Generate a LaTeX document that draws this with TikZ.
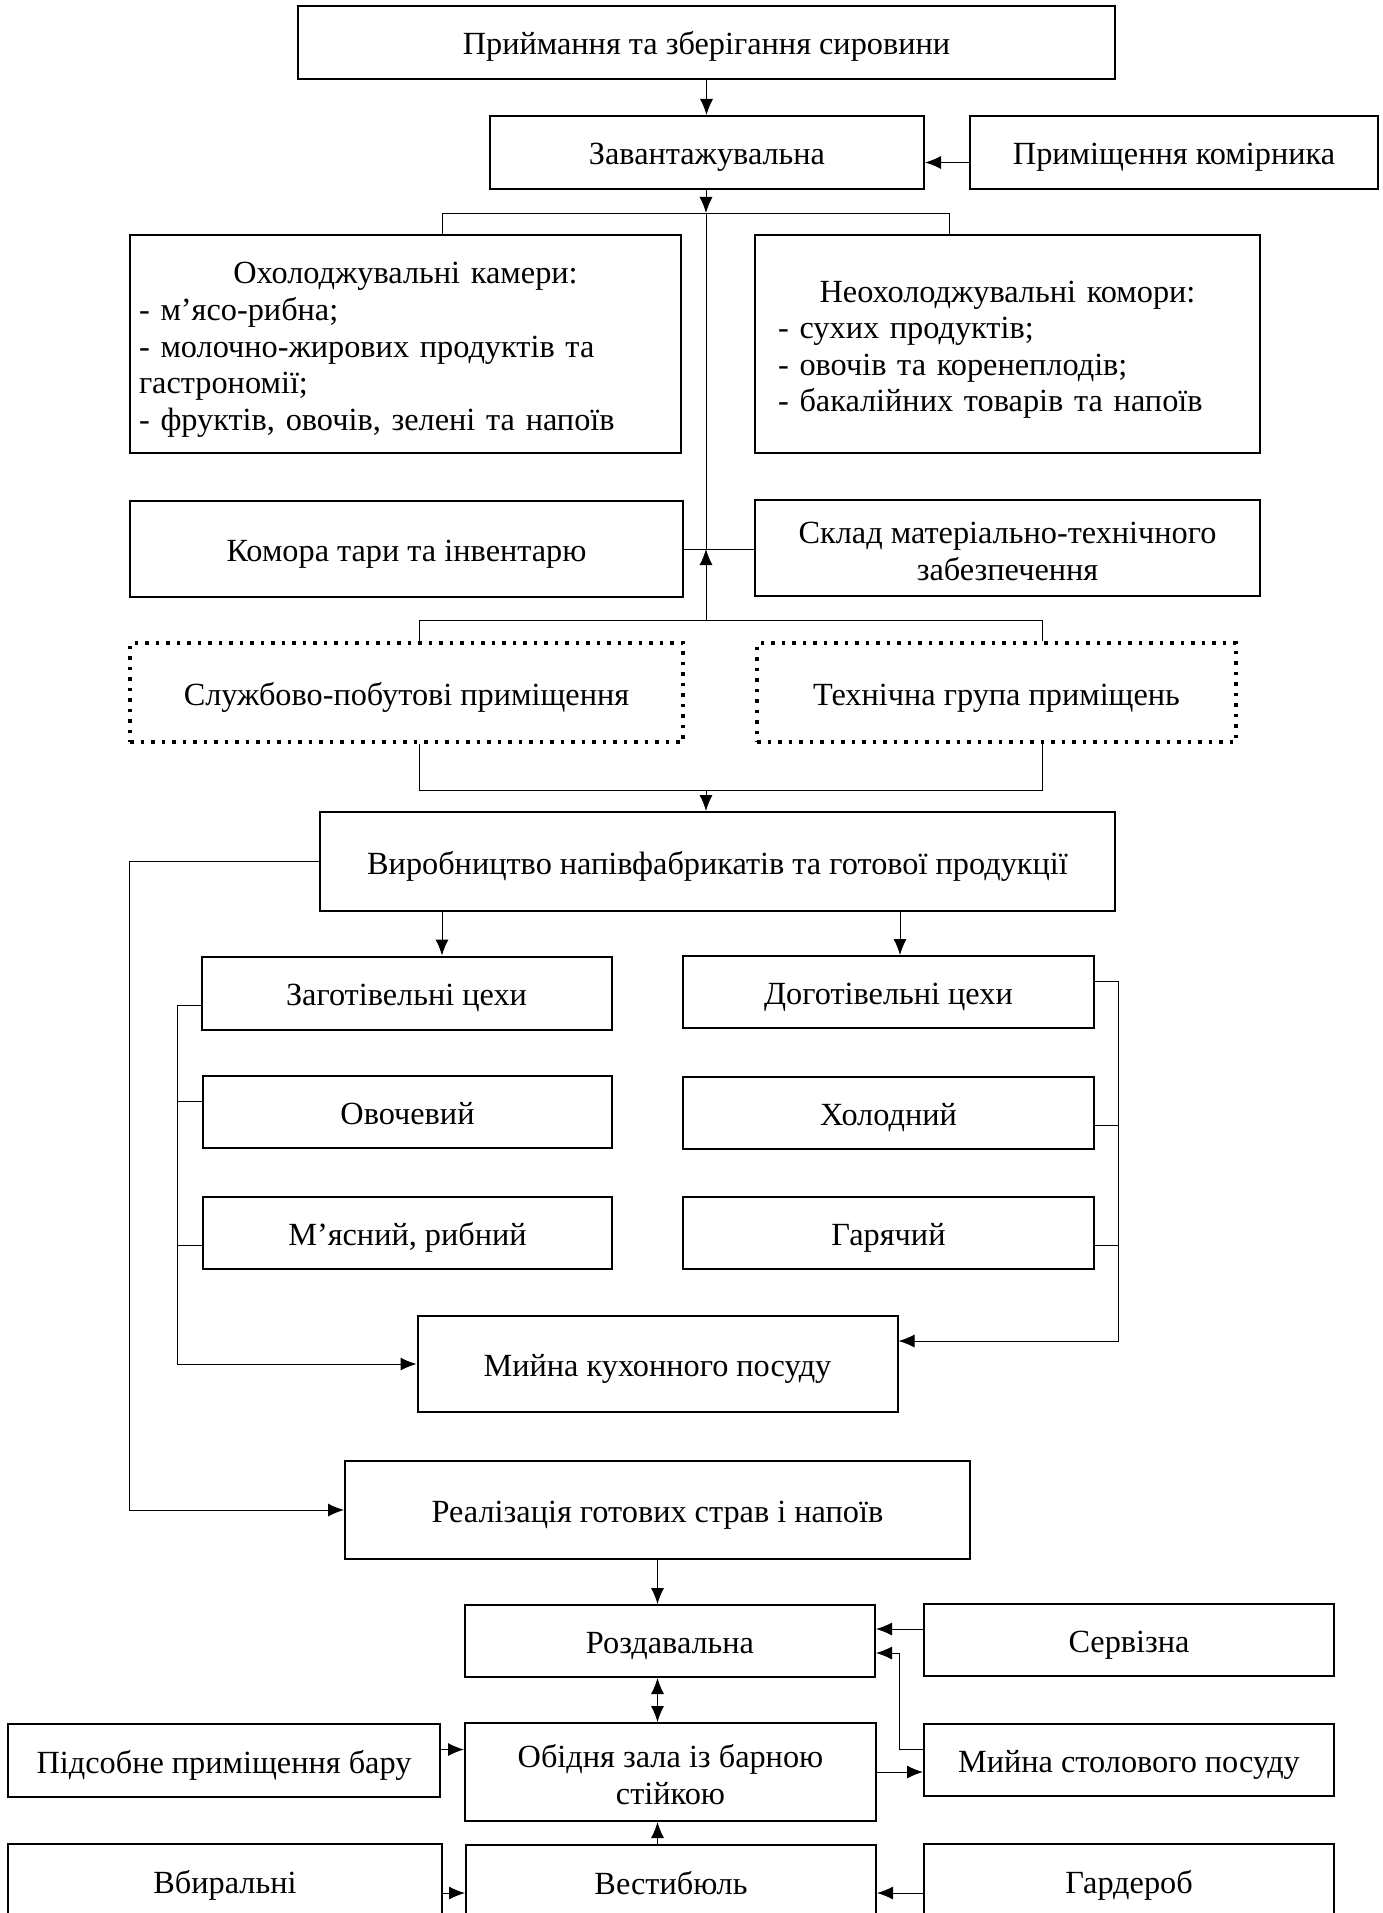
\documentclass[tikz,border=0pt]{standalone}
\usepackage{fontspec}
\setmainfont{Liberation Serif}
\usetikzlibrary{arrows.meta}
\newcommand{\toppad}{\rule{0pt}{33pt}}

\begin{document}
\begin{tikzpicture}[x=1pt, y=-1pt,
    base/.style={draw, line width=2pt, inner sep=0pt, align=center, font=\fontsize{32.3}{36.6}\selectfont},
    box/.style={base, text height=25pt, text depth=0pt},
    dotbox/.style={box, line width=3.5pt, dash pattern=on 3.5pt off 7pt},
    sz/.style 2 args={minimum width=#1pt, minimum height=#2pt},
    conn/.style={line width=1pt},
    arr/.style={line width=1pt, arrows=-{Latex[length=16pt,width=13pt]}},
    arr2/.style={line width=1pt, arrows={Latex[length=16pt,width=13pt]}-{Latex[length=16pt,width=13pt]}}]
    \useasboundingbox (0,0) rectangle (1383,1913);
    \clip (0,0) rectangle (1383,1913);

    % storage
    \node[box, sz={817}{73}] (prm) at (706.5,42.5) {Приймання та зберігання сировини};
    \node[box, sz={434}{73}] (zav) at (707,152.5) {Завантажувальна};
    \node[box, sz={408}{73}] (komir) at (1174,152.5) {Приміщення комірника};
    \node[base, sz={551}{218}, text width=533pt, align=left] (ohol) at (405.5,344) {{\centering\toppad Охолоджувальні камери:\par}- м’ясо-рибна;\\- молочно-жирових продуктів та\\гастрономії;\\- фруктів, овочів, зелені та напоїв};
    \node[base, sz={505}{218}, text width=459pt, align=left] (neoh) at (1007.5,344) {{\centering\toppad Неохолоджувальні комори:\par}- сухих продуктів;\\- овочів та коренеплодів;\\- бакалійних товарів та напоїв};
    \node[box, sz={553}{96}] (kora) at (406.5,549) {Комора тари та інвентарю};
    \node[base, sz={505}{96}] (sklad) at (1007.5,548) {\rule{0pt}{28pt}Склад матеріально-технічного\\забезпечення};
    \node[dotbox, sz={553}{99}] (sluzh) at (406.5,692.5) {Службово-побутові приміщення};
    \node[dotbox, sz={479}{99}] (tekh) at (996.5,692.5) {Технічна група приміщень};

    % production
    \node[box, sz={795}{99}] (vyr) at (717.5,861.5) {Виробництво напівфабрикатів та готової продукції};
    \node[box, sz={410}{73}] (zag) at (406.5,993) {Заготівельні цехи};
    \node[box, sz={409}{72}] (ovo) at (407.5,1112) {Овочевий};
    \node[box, sz={409}{72}] (myas) at (407.5,1233) {М’ясний, рибний};
    \node[box, sz={411}{72}] (dog) at (888.5,992) {Доготівельні цехи};
    \node[box, sz={411}{72}] (khol) at (888.5,1113) {Холодний};
    \node[box, sz={411}{72}] (garyach) at (888.5,1233) {Гарячий};
    \node[box, sz={480}{96}] (mkp) at (657.5,1364) {Мийна кухонного посуду};

    % service
    \node[box, sz={625}{98}] (real) at (657.5,1510) {Реалізація готових страв і напоїв};
    \node[box, sz={410}{72}] (rozd) at (670,1641) {Роздавальна};
    \node[box, sz={410}{72}] (serv) at (1129,1640) {Сервізна};
    \node[base, sz={411}{98}] (obid) at (670.5,1772) {\rule{0pt}{28pt}Обідня зала із барною\\стійкою};
    \node[box, sz={432}{73}] (pids) at (224,1760.5) {Підсобне приміщення бару};
    \node[box, sz={410}{72}] (myst) at (1129,1760) {Мийна столового посуду};
    \node[box, sz={410}{73}] (vest) at (671,1881.5) {Вестибюль};
    \node[box, sz={434}{74}] (vbyr) at (225,1881) {Вбиральні};
    \node[box, sz={410}{74}] (gard) at (1129,1881) {Гардероб};

    \coordinate (j1) at (706,213);
    \coordinate (j1l) at (442,213);
    \coordinate (j1r) at (949,213);
    \coordinate (j2) at (706,549);
    \coordinate (j3l) at (419,620);
    \coordinate (j3r) at (1042,620);
    \coordinate (j4l) at (419,790);
    \coordinate (j4r) at (1042,790);
    \coordinate (zin) at (442,911);
    \coordinate (din) at (900,911);

    \draw[arr] (prm.south) -- (prm.south |- zav.north);
    \draw[arr] ([yshift=-10pt]komir.west) coordinate (k1) -- (k1 -| zav.east);
    \draw[arr] (zav.south -| j1) -- (j1);
    \draw[conn] (j1l |- ohol.north) -- (j1l) -- (j1r) -- (j1r |- neoh.north);
    \draw[conn] (j1) -- (j2);
    \draw[conn] (kora.east) -- (kora.east -| sklad.west);
    \draw[conn] (j3l |- sluzh.north) -- (j3l) -- (j3r) -- (j3r |- tekh.north);
    \draw[arr] (j1 |- j3l) -- (j2);
    \draw[conn] (j4l |- sluzh.south) -- (j4l) -- (j4r) -- (j4r |- tekh.south);
    \draw[arr] (j1 |- j4l) -- (j1 |- vyr.north);

    \draw[arr] (zin) -- (zin |- zag.north);
    \draw[arr] (din) -- (din |- dog.north);
    \draw[arr] ([yshift=-12pt]zag.west) -- ++(-23.5,0) |- (mkp.west);
    \draw[conn] ([yshift=11pt]ovo.west) -- ++(-25,0);
    \draw[conn] ([yshift=-12pt]myas.west) -- ++(-25,0);
    \draw[arr] ([yshift=11pt]dog.east) -- ++(23,0) |- ([yshift=23pt]mkp.east);
    \draw[conn] ([yshift=-12pt]khol.east) -- ++(23,0);
    \draw[conn] ([yshift=-12pt]garyach.east) -- ++(23,0);
    \draw[arr] (vyr.west) -- ++(-190,0) |- (real.west);

    \draw[arr] (real.south) -- (real.south |- rozd.north);
    \draw[arr] ([yshift=11pt]serv.west) coordinate (s1) -- (s1 -| rozd.east);
    \draw[arr] ([yshift=11pt]myst.west) -- ++(-24,0) |- ([yshift=-12pt]rozd.east);
    \draw[arr2] (real.south |- rozd.south) -- (real.south |- obid.north);
    \draw[arr] ([yshift=11pt]pids.east) coordinate (p1) -- (p1 -| obid.west);
    \draw[arr] (obid.east) -- (obid.east -| myst.west);
    \draw[arr] (real.south |- vest.north) -- (real.south |- obid.south);
    \draw[arr] ([yshift=-12pt]vbyr.east) coordinate (v1) -- (v1 -| vest.west);
    \draw[arr] ([yshift=-12pt]gard.west) coordinate (g1) -- (g1 -| vest.east);
\end{tikzpicture}
\end{document}
